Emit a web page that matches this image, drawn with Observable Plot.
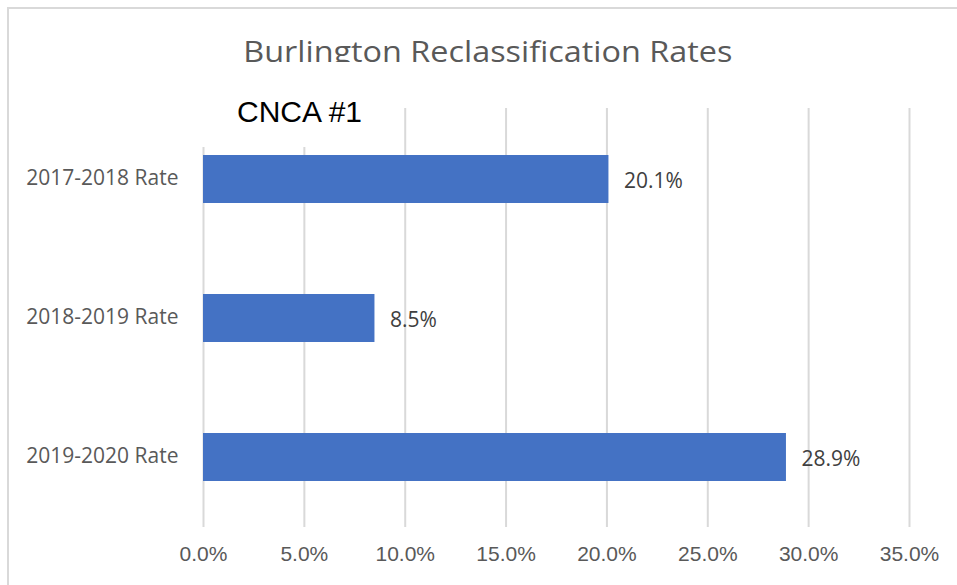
<!DOCTYPE html>
<html>
<head>
<meta charset="utf-8">
<script src="https://cdn.jsdelivr.net/npm/d3@7"></script>
<script src="https://cdn.jsdelivr.net/npm/@observablehq/plot@0.6"></script>
<style>
  html, body { margin: 0; padding: 0; background: #fff; }
  #wrap { position: relative; width: 957px; height: 585px; overflow: hidden; background: #fff; }
  #frame { position: absolute; left: 7px; top: 7px; width: 1000px; height: 1000px;
           border-left: 2px solid #d9d9d9; border-top: 2px solid #d9d9d9; box-sizing: border-box; z-index: 0; }
  #titleclip { position: absolute; left: 0; top: 0; width: 975px; height: 62px; overflow: hidden; z-index: 3; }
  #title { position: absolute; left: 0; top: 0; width: 975px; text-align: center; white-space: nowrap; }
  #title span { display: inline-block; font-family: "Open Sans", sans-serif; font-size: 29.5px; line-height: 30px;
                color: #595959; transform-origin: 50% 50%; }
  #head { height: 108px; }
  #cncabox { position: absolute; left: 190px; top: 62px; width: 205px; height: 85px; background: #fff; z-index: 3; }
  #cnca { position: absolute; left: 237px; top: 97px; font-family: "Liberation Sans", sans-serif;
          font-size: 30px; line-height: 30px; color: #000; white-space: nowrap; z-index: 4; }
  #chart { position: relative; z-index: 1; }
</style>
</head>
<body>
<div id="wrap">
  <div id="frame"></div>
  <div id="titleclip"><div id="title"><span id="titletext">Burlington Reclassification Rates</span></div></div>
  <div id="cncabox"></div>
  <div id="cnca">CNCA #1</div>
  <div id="head"></div>
  <div id="chart"></div>
</div>
<script>
const categories = ["2017-2018 Rate", "2018-2019 Rate", "2019-2020 Rate"];
const rates = [20.1, 8.5, 28.9];
const xTicks = [0, 5, 10, 15, 20, 25, 30, 35];

const data = categories.map((c, i) => ({category: c, rate: rates[i]}));
const pct = v => v.toFixed(1) + "%";

const chart = Plot.plot({
  width: 957,
  height: 477,
  marginTop: 0,
  marginBottom: 58,
  marginLeft: 203,
  marginRight: 48,
  style: {background: "transparent", overflow: "visible"},
  x: {domain: [0, 35], ticks: xTicks},
  y: {domain: categories, paddingInner: 0.656, paddingOuter: 0.328},
  marks: [
    Plot.gridX(xTicks, {stroke: "#d9d9d9", strokeOpacity: 1, strokeWidth: 2}),
    Plot.barX(data, {x1: 0, x2: "rate", y: "category", fill: "#4472C4"}),
    Plot.text(data, {x: "rate", y: "category", text: d => pct(d.rate), textAnchor: "start", dx: 15, dy: 2,
      fill: "#404040", fontSize: 21, fontFamily: "Open Sans"}),
    Plot.axisX(xTicks, {tickSize: 0, tickPadding: 19, tickFormat: pct, label: null,
      fill: "#595959", fontSize: 21, fontFamily: "Liberation Sans"}),
    Plot.axisY({tickSize: 0, tickPadding: 25, label: null, dy: -1,
      fill: "#595959", fontSize: 21, fontFamily: "Open Sans"})
  ]
});
document.getElementById("chart").appendChild(chart);

// fit title to the reference's width and place its baseline
const t = document.getElementById("titletext");
const w = t.getBoundingClientRect().width;
t.style.transform = `scaleX(${489 / w})`;
t.parentElement.style.top = "36px";
</script>
</body>
</html>
